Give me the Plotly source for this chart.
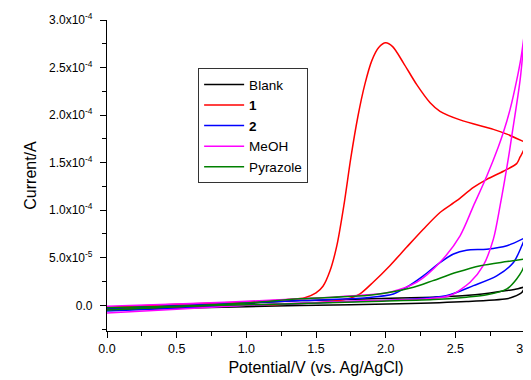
import plotly.graph_objects as go

# Potential (V) and current (units of 1e-5 A); each voltammogram is split into
# the forward scan (0 -> 3.0 V) and the reverse scan (3.0 -> 0 V)
blank_fwd_v = [0, 0.5, 1.0, 1.385, 1.9, 2.342, 2.55, 2.75, 2.87, 2.95, 3.0]
blank_fwd_i = [-0.3, -0.05, 0.2, 0.5, 0.68, 0.86, 1.0, 1.3, 1.55, 1.75, 1.95]
blank_rev_v = [3.0, 2.977, 2.917, 2.87, 2.58, 2.10, 1.385, 1.0, 0.5, 0]
blank_rev_i = [1.95, 1.35, 0.9, 0.7, 0.4, 0.16, -0.02, -0.15, -0.3, -0.45]

red_fwd_v = [0, 0.5, 1.0, 1.3, 1.42, 1.50, 1.55, 1.60, 1.65, 1.70, 1.75, 1.80, 1.85,
             1.90, 1.95, 2.00, 2.05, 2.127, 2.223, 2.319, 2.39, 2.534, 2.773, 2.87, 3.0]
red_fwd_i = [-0.2, 0.1, 0.35, 0.6, 0.8, 1.3, 2.0, 3.6, 6.3, 10.5, 15.5, 19.8, 23.2,
             25.7, 27.1, 27.6, 27.2, 25.5, 23.2, 21.3, 20.4, 19.5, 18.5, 18.0, 17.15]
red_rev_v = [3.0, 2.99, 2.965, 2.94, 2.845, 2.726, 2.63, 2.51, 2.39, 2.27, 2.15, 2.03,
             1.91, 1.816, 1.745, 1.6, 1.4, 1.0, 0.5, 0]
red_rev_i = [17.15, 16.3, 15.6, 14.9, 14.1, 13.25, 12.4, 11.0, 9.76, 8.0, 6.1, 4.17,
             2.43, 1.2, 0.75, 0.4, 0.2, 0.0, -0.2, -0.4]

blue_fwd_v = [0, 0.5, 1.0, 1.4, 1.865, 2.055, 2.15, 2.27, 2.39, 2.487, 2.58, 2.726, 2.87, 3.0]
blue_fwd_i = [-0.35, -0.05, 0.25, 0.5, 0.8, 1.2, 1.9, 3.1, 4.5, 5.4, 5.8, 5.9, 6.26, 7.1]
blue_rev_v = [3.0, 2.977, 2.917, 2.797, 2.63, 2.44, 2.10, 1.865, 1.4, 1.0, 0.5, 0]
blue_rev_i = [7.1, 6.26, 4.5, 3.1, 2.07, 1.03, 0.58, 0.45, 0.2, 0.0, -0.3, -0.6]

meoh_fwd_v = [0, 0.5, 1.0, 1.5, 1.9, 2.295, 2.462, 2.606, 2.70, 2.773, 2.821, 2.881,
              2.905, 2.965, 3.0]
meoh_fwd_i = [-0.8, -0.4, 0.0, 0.3, 0.5, 0.68, 1.03, 2.43, 4.17, 6.96, 10.45, 15.5,
              17.8, 23.7, 29.1]
meoh_rev_v = [3.0, 2.972, 2.941, 2.893, 2.845, 2.807, 2.726, 2.63, 2.534, 2.39, 2.224,
              2.03, 1.865, 1.625, 1.2, 0.6, 0]
meoh_rev_i = [29.1, 26.1, 23.7, 20.6, 18.2, 16.6, 13.6, 10.45, 7.31, 4.52, 2.43,
              1.38, 1.1, 0.86, 0.55, 0.2, -0.1]

pyr_fwd_v = [0, 0.5, 1.0, 1.385, 1.865, 2.0, 2.20, 2.34, 2.51, 2.68, 2.87, 3.0]
pyr_fwd_i = [-0.5, -0.15, 0.25, 0.68, 1.03, 1.3, 1.9, 2.6, 3.47, 4.17, 4.6, 4.87]
pyr_rev_v = [3.0, 2.99, 2.94, 2.87, 2.726, 2.58, 2.342, 1.9, 1.385, 1.0, 0.5, 0]
pyr_rev_i = [4.87, 4.0, 2.77, 1.73, 1.1, 0.86, 0.6, 0.4, 0.2, 0.05, -0.1, -0.25]

names = ["Blank", "<b>1</b>", "<b>2</b>", "MeOH", "Pyrazole"]
colors = ["#000000", "#ff0000", "#0000ff", "#ff00ff", "#008000"]
series = [
    ((blank_fwd_v, blank_fwd_i), (blank_rev_v, blank_rev_i)),
    ((red_fwd_v, red_fwd_i), (red_rev_v, red_rev_i)),
    ((blue_fwd_v, blue_fwd_i), (blue_rev_v, blue_rev_i)),
    ((meoh_fwd_v, meoh_fwd_i), (meoh_rev_v, meoh_rev_i)),
    ((pyr_fwd_v, pyr_fwd_i), (pyr_rev_v, pyr_rev_i)),
]

y_tickvals = [0, 5e-5, 1e-4, 1.5e-4, 2e-4, 2.5e-4, 3e-4]
y_ticktext = ["0.0", "5.0x10<sup>-5</sup>", "1.0x10<sup>-4</sup>", "1.5x10<sup>-4</sup>",
              "2.0x10<sup>-4</sup>", "2.5x10<sup>-4</sup>", "3.0x10<sup>-4</sup>"]
x_tickvals = [0, 0.5, 1.0, 1.5, 2.0, 2.5, 3.0]
x_ticktext = ["0.0", "0.5", "1.0", "1.5", "2.0", "2.5", "3.0"]

fig = go.Figure()
for (fwd, rev), n, c in zip(series, names, colors):
    for k, (v, i) in enumerate((fwd, rev)):
        fig.add_trace(go.Scatter(x=v, y=[val * 1e-5 for val in i], mode="lines", name=n,
                                 legendgroup=n, showlegend=(k == 0),
                                 line=dict(color=c, width=1.5, shape="spline", smoothing=0.8)))

font_family = "Liberation Sans, Arial, sans-serif"
fig.update_layout(
    width=523, height=372,
    margin=dict(l=99, r=6, t=12, b=49, autoexpand=False),
    paper_bgcolor="white", plot_bgcolor="white",
    font=dict(family=font_family, size=12.5, color="black"),
    showlegend=True,
    legend=dict(x=0.218, y=0.845, xanchor="left", yanchor="top",
                bordercolor="#333333", borderwidth=1, bgcolor="white", itemwidth=40,
                font=dict(size=13.5, family=font_family), tracegroupgap=0),
    xaxis=dict(range=[0, 3.0], tickmode="array", tickvals=x_tickvals, ticktext=x_ticktext,
               automargin=False, ticklabeloverflow="allow",
               showline=True, linecolor="black", linewidth=1.2, ticks="outside",
               ticklen=6, tickwidth=1.2, tickcolor="black", showgrid=False, zeroline=False,
               title=dict(text="Potential/V (vs. Ag/AgCl)", font=dict(size=16), standoff=6),
               minor=dict(tickmode="array", tickvals=[0.25, 0.75, 1.25, 1.75, 2.25, 2.75],
                          ticks="outside", ticklen=3.5, tickwidth=1.2, tickcolor="black",
                          showgrid=False)),
    yaxis=dict(range=[-2.7e-5, 3.0e-4], tickmode="array", tickvals=y_tickvals, ticktext=y_ticktext,
               automargin=False, ticklabelstandoff=5, tickfont=dict(size=12),
               showline=True, linecolor="black", linewidth=1.2, ticks="outside",
               ticklen=6, tickwidth=1.2, tickcolor="black", showgrid=False, zeroline=False,
               title=dict(text="Current/A", font=dict(size=16), standoff=8),
               minor=dict(tickmode="array",
                          tickvals=[-2.5e-5, 2.5e-5, 7.5e-5, 1.25e-4, 1.75e-4, 2.25e-4, 2.75e-4],
                          ticks="outside", ticklen=3.5, tickwidth=1.2, tickcolor="black",
                          showgrid=False)),
)

fig.write_html("out.html")
